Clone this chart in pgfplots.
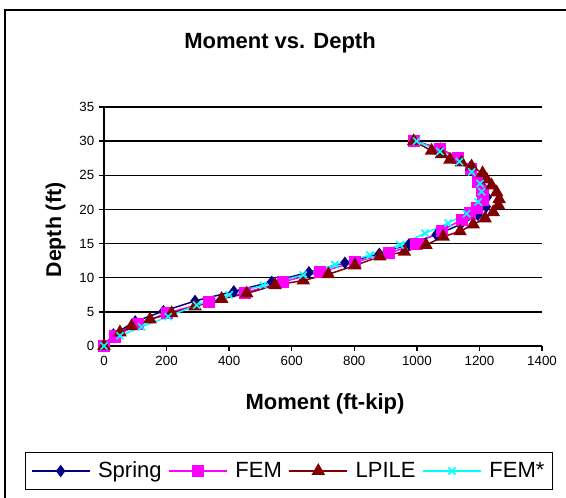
\documentclass[border=0pt]{standalone}
\usepackage{fontspec}
\setmainfont{Liberation Sans}
\usepackage{pgfplots}
\pgfplotsset{compat=1.18}
\definecolor{cSpring}{RGB}{0,0,128}
\definecolor{cFEM}{RGB}{255,0,255}
\definecolor{cLPILE}{RGB}{128,0,0}
\definecolor{cFEMs}{RGB}{0,255,255}
\begin{document}
\begin{tikzpicture}
\useasboundingbox (0pt,0pt) rectangle (424.5pt,-372.75pt);
\fill[white] (0pt,0pt) rectangle (424.5pt,-372.75pt);
\draw[line width=1.1pt] (3.75pt,-7.5pt) rectangle (440pt,-390pt);
\node[anchor=base, font=\fontsize{16.5}{18}\selectfont\bfseries] at (210pt,-36pt) {Moment vs. Depth};
\node[anchor=base, rotate=90, font=\fontsize{16}{18}\selectfont\bfseries] at (45.75pt,-172.5pt) {Depth (ft)};
\node[anchor=base, font=\fontsize{16.5}{18}\selectfont\bfseries] at (243.75pt,-306.75pt) {Moment (ft-kip)};
\begin{axis}[
  at={(78pt,-259.5pt)}, anchor=south west,
  scale only axis, width=328.5pt, height=179.25pt,
  xmin=0, xmax=1400, ymin=0, ymax=35,
  xtick={0,200,...,1400}, ytick={0,5,...,35},
  axis x line*=bottom, axis y line*=left,
  axis line style={line width=1.1pt, black, -},
  tick align=outside, major tick length=3.75pt,
  tick style={black, line width=1.1pt},
  ymajorgrids, major grid style={black, line width=1.1pt},
  /pgf/number format/assume math mode=true,
  /pgf/number format/set thousands separator={},
  tick label style={font=\fontsize{10}{12}\selectfont},
  clip=false,
  legend style={at={(0.4224,-0.523)}, anchor=center, draw=black, line width=1.1pt,
    fill=white, font=\fontsize{16.5}{18}\selectfont, inner xsep=4pt, inner ysep=5pt,
    /tikz/every odd column/.append style={column sep=3.75pt},
    /tikz/every even column/.append style={column sep=3pt}},
  legend columns=4,
  legend image code/.code={\draw[mark repeat=2,mark phase=2] plot coordinates {(0pt,0pt) (21.75pt,0pt) (43.5pt,0pt)};},
]
\addplot[cSpring, line width=1.1pt, mark=diamond*, mark size=3.8pt, mark options={solid, fill=cSpring}] coordinates {
(0,0) (30,1.7) (100,3.6) (190,5.1) (291,6.6) (415,8.0) (536,9.4) (655,10.8) (770,12.2) (880,13.5) (975,14.9) (1062,16.3) (1140,17.8) (1195,19.2) (1222,20.4) (1225,21.8) (1212,23.2) (1190,24.6) (1170,26.2) (1132,27.5) (1075,28.9) (995,30)
};
\addlegendentry{Spring}
\addplot[cFEM, line width=1.1pt, mark=square*, mark size=4pt, mark options={solid, fill=cFEM}] coordinates {
(0,0) (35,1.4) (110,3.2) (200,4.8) (335,6.5) (450,7.8) (573,9.4) (690,10.8) (802,12.3) (912,13.6) (999,15.0) (1079,16.9) (1143,18.5) (1170,19.4) (1191,20.2) (1212,21.4) (1210,22.7) (1196,24.1) (1172,25.9) (1132,27.5) (1074,28.9) (991,30)
};
\addlegendentry{FEM}
\addplot[cLPILE, line width=1.1pt, mark=triangle*, mark size=4.8pt, mark options={solid, fill=cLPILE}] coordinates {
(0,0) (51,2.0) (88,2.9) (147,3.9) (216,4.8) (291,5.8) (376,6.9) (456,7.7) (547,8.9) (637,9.6) (717,10.5) (802,11.8) (882,13.1) (960,13.8) (1029,14.8) (1084,16.0) (1138,16.8) (1180,17.8) (1218,18.7) (1244,19.6) (1261,20.6) (1263,21.5) (1255,22.5) (1239,23.5) (1223,24.4) (1210,25.3) (1175,26.3) (1143,26.9) (1106,27.3) (1079,28.1) (1047,28.6) (990,30)
};
\addlegendentry{LPILE}
\addplot[cFEMs, line width=1.1pt, mark=x, mark size=3.8pt, mark options={solid, line width=1.2pt}] coordinates {
(0,0) (51,1.5) (120,2.8) (205,4.3) (296,6.0) (400,7.5) (509,8.9) (637,10.4) (738,11.9) (850,13.3) (946,14.8) (1026,16.5) (1100,18.0) (1159,19.4) (1196,21.1) (1207,22.6) (1202,23.8) (1175,25.5) (1136,27.0) (1074,28.5) (999,30)
};
\addlegendentry{FEM*}
\end{axis}
\end{tikzpicture}
\end{document}
